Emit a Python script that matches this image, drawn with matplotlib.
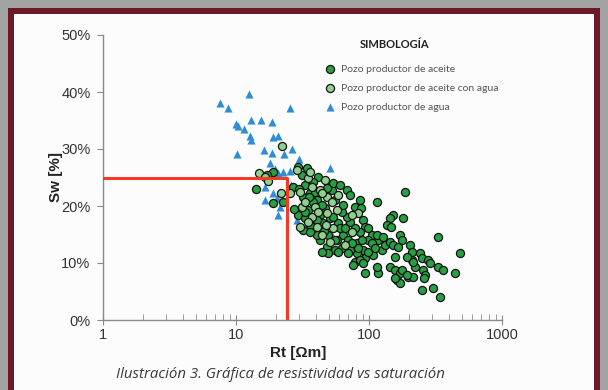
import matplotlib
matplotlib.use("Agg")
import matplotlib.pyplot as plt
from matplotlib.patches import Rectangle
from matplotlib.ticker import FuncFormatter, LogLocator, NullFormatter

# Pozos productores de aceite (Rt en ohm-m, Sw en %)
aceite_rt = [19.0, 14.1, 19.0, 22.5, 26.8, 17.1, 31.4, 34.2, 33.0, 31.9, 36.0, 41.3, 40.6, 34.8,
             29.2, 33.0, 42.8, 46.6, 52.6, 55.5, 50.9, 45.0, 36.0, 31.9, 58.4, 49.1, 29.2, 37.9,
             53.6, 48.3, 68.3, 72.0, 85.5, 115, 78.5, 90.0, 93.3, 85.5, 63.7, 57.4, 42.8, 40.6,
             36.0, 72.0, 68.3, 62.6, 44.3, 33.0, 40.6, 53.6, 60.5, 69.5, 81.3, 90.0, 93.3, 107,
             125, 132, 117, 105, 98.2, 81.3, 72.0, 62.6, 55.5, 48.3, 78.5, 49.1, 157, 144, 151,
             144, 186, 136, 146, 180, 171, 115, 127, 330, 483, 440, 93.3, 117, 157, 171, 196, 162,
             171, 214, 250, 303, 342, 242, 250, 277, 287, 330, 360, 210, 221, 254, 263, 177, 203,
             210, 144, 151, 165, 105, 111, 98.2, 85.5, 90.0, 82.7, 74.5, 88.0, 193, 214, 259, 177,
             193, 75.8, 115, 157, 44.3, 58.4, 69.5, 37.9, 55.5, 63.7, 66.0, 39.2, 78.5, 87.8, 98.2,
             27.5, 29.8, 35.2, 46.0, 61.0]
aceite_sw = [26.0, 23.0, 20.5, 20.7, 23.3, 25.4, 25.4, 26.7, 23.7, 21.6, 22.3, 25.1, 21.1, 19.3,
             18.4, 17.9, 18.4, 19.6, 22.8, 21.1, 17.9, 17.0, 16.7, 15.8, 17.0, 14.9, 26.8, 24.2,
             24.0, 23.2, 22.8, 21.9, 21.1, 20.7, 19.8, 17.5, 16.3, 15.4, 14.9, 14.0, 14.0, 14.9,
             15.4, 17.2, 18.1, 18.9, 20.2, 18.9, 17.5, 18.1, 16.1, 14.0, 13.5, 12.3, 10.9, 11.4,
             12.3, 13.2, 14.0, 14.9, 14.0, 11.8, 12.3, 12.6, 12.3, 12.8, 10.2, 11.8, 11.1, 9.3, 18.4,
             17.9, 22.5, 16.7, 16.3, 17.9, 14.9, 14.9, 14.6, 14.6, 11.8, 8.2, 8.2, 8.2, 8.8, 8.2, 7.5, 7.0,
             6.5, 7.5, 5.3, 5.6, 4.0, 11.8, 10.9, 10.5, 10.0, 9.3, 8.8, 10.5, 9.3, 8.8, 7.9, 14.0, 13.2,
             11.9, 13.7, 13.2, 12.8, 13.5, 12.6, 11.9, 10.5, 10.0, 12.6, 13.5, 14.0, 11.1, 10.2, 7.4, 8.8,
             7.9, 9.6, 9.3, 7.4, 11.9, 11.9, 11.8, 20.7, 14.0, 20.2, 16.1, 22.5, 16.1, 19.6, 16.1,
             19.5, 23.0, 21.5, 15.6, 23.6]

# Pozos productores de aceite con agua
aceite_agua_rt = [22.2, 14.9, 16.5, 21.7, 25.5, 28.7, 34.8, 30.3, 37.3, 42.8, 39.2, 31.4, 37.3,
                  48.3, 57.4, 40.6, 53.6, 44.3, 36.0, 44.3, 82.7, 74.5, 50.9, 30.3, 52.6, 41.3,
                  34.8, 48.3, 33.0, 47.5, 66.0, 74.5, 46.6, 58.4, 17.4]
aceite_agua_sw = [30.5, 25.8, 25.1, 22.3, 22.3, 26.3, 24.9, 22.5, 23.3, 22.8, 19.8, 19.8, 18.1,
                  21.6, 19.3, 16.3, 16.1, 14.9, 26.0, 22.3, 18.8, 15.4, 13.7, 16.3, 20.7, 18.9,
                  17.2, 18.8, 20.7, 16.7, 13.2, 18.4, 24.6, 21.9, 24.4]

# Pozos productores de agua
agua_rt = [7.6, 8.7, 12.5, 25.5, 10.0, 10.3, 11.5, 13.0, 15.4, 18.6, 12.7, 13.0, 19.0, 20.6,
           10.2, 16.2, 18.6, 26.3, 22.9, 29.7, 18.0, 50.9, 22.5, 19.6, 25.5, 20.6, 19.0, 16.5,
           21.4, 20.6, 28.7, 16.5, 26.0, 20.3, 68.3, 53.6]
agua_sw = [38.1, 37.2, 39.6, 37.2, 34.4, 34.0, 33.5, 35.1, 35.1, 34.7, 32.3, 31.6, 32.1, 32.3,
           29.1, 29.8, 29.3, 30.0, 29.1, 28.2, 27.5, 26.7, 26.0, 26.5, 26.1, 25.8, 22.3, 21.1,
           19.8, 18.4, 17.5, 23.3, 23.7, 21.4, 17.2, 14.6]

# Valores de corte
rt_corte = 24
sw_corte = 25

sans = ['Liberation Sans', 'DejaVu Sans']

fig = plt.figure(figsize=(6.08, 3.90), dpi=100)
fig.patch.set_facecolor('#a3a3a3')

# marco guinda y panel blanco
fig.add_artist(Rectangle((8 / 608, 0), 592 / 608, 382 / 390, transform=fig.transFigure,
                         facecolor='#6b1a2a', edgecolor='none', zorder=0))
fig.add_artist(Rectangle((14 / 608, 0), 580 / 608, 376 / 390, transform=fig.transFigure,
                         facecolor='#fcfcfc', edgecolor='none', zorder=0))

ax = fig.add_axes([103 / 608, 70 / 390, 399 / 608, 285 / 390])
ax.set_facecolor('#fcfcfc')

h3 = ax.scatter(agua_rt, agua_sw, marker='^', s=34, color='#2f8dd3', linewidths=0, zorder=2,
                label='Pozo productor de agua')
h1 = ax.scatter(aceite_rt, aceite_sw, marker='o', s=34, facecolor='#27a043', edgecolor='#111111',
                linewidths=0.9, zorder=3, label='Pozo productor de aceite')
h2 = ax.scatter(aceite_agua_rt, aceite_agua_sw, marker='o', s=34, facecolor='#8fd08f',
                edgecolor='#111111', linewidths=0.9, zorder=3,
                label='Pozo productor de aceite con agua')

# líneas de corte
ax.plot([1, rt_corte, rt_corte], [sw_corte, sw_corte, 0], color='#f23b22', lw=2.2, zorder=4)

ax.set_xscale('log')
ax.set_xlim(1, 1000)
ax.set_ylim(0, 50)
ax.set_yticks([0, 10, 20, 30, 40, 50])
ax.yaxis.set_major_formatter(FuncFormatter(lambda v, p: '%d%%' % v))
ax.xaxis.set_major_locator(LogLocator(base=10, numticks=10))
ax.xaxis.set_major_formatter(FuncFormatter(lambda v, p: '%d' % v))
ax.xaxis.set_minor_locator(LogLocator(base=10, subs=range(2, 10), numticks=30))
ax.xaxis.set_minor_formatter(NullFormatter())

for s in ['top', 'right']:
    ax.spines[s].set_visible(False)
for s in ['left', 'bottom']:
    ax.spines[s].set_color('#8a8a8a')
    ax.spines[s].set_linewidth(1.0)

ax.tick_params(axis='y', which='major', direction='out', length=4, color='#8a8a8a',
               labelsize=10.5, labelcolor='#333333', pad=5)
ax.tick_params(axis='x', which='major', direction='inout', length=7, color='#8a8a8a',
               labelsize=10.5, labelcolor='#333333', pad=2)
ax.tick_params(axis='x', which='minor', direction='in', length=4, color='#8a8a8a')
for lab in ax.get_xticklabels() + ax.get_yticklabels():
    lab.set_family(sans)

ax.set_xlabel('Rt [Ωm]', family=sans, fontsize=11, fontweight='bold', color='#222222')
ax.set_ylabel('Sw [%]', family=sans, fontsize=11, fontweight='bold', color='#222222')
ax.xaxis.set_label_coords(0.49, -26 / 285)
ax.yaxis.set_label_coords(-40 / 399, 0.5)

leg = ax.legend(handles=[h1, h2, h3], loc='upper left',
                bbox_to_anchor=(319 / 608, 1 - 59 / 390), bbox_transform=fig.transFigure,
                frameon=False, prop={'family': 'Lato', 'size': 7.5}, labelspacing=0.95,
                handletextpad=0.4, handlelength=1.2, borderpad=0)
for t in leg.get_texts():
    t.set_color('#555555')

fig.text(395 / 608, 1 - 44 / 390, 'SIMBOLOGÍA', ha='center', va='center', family='Lato',
         fontsize=8, fontweight='bold', color='#222222')

fig.text(280 / 608, 1 - 374 / 390, 'Ilustración 3. Gráfica de resistividad vs saturación',
         ha='center', va='center', family='Open Sans', style='italic', fontsize=10.8,
         color='#3a3a3a')

fig.savefig('out.png', dpi=100, facecolor=fig.get_facecolor())
